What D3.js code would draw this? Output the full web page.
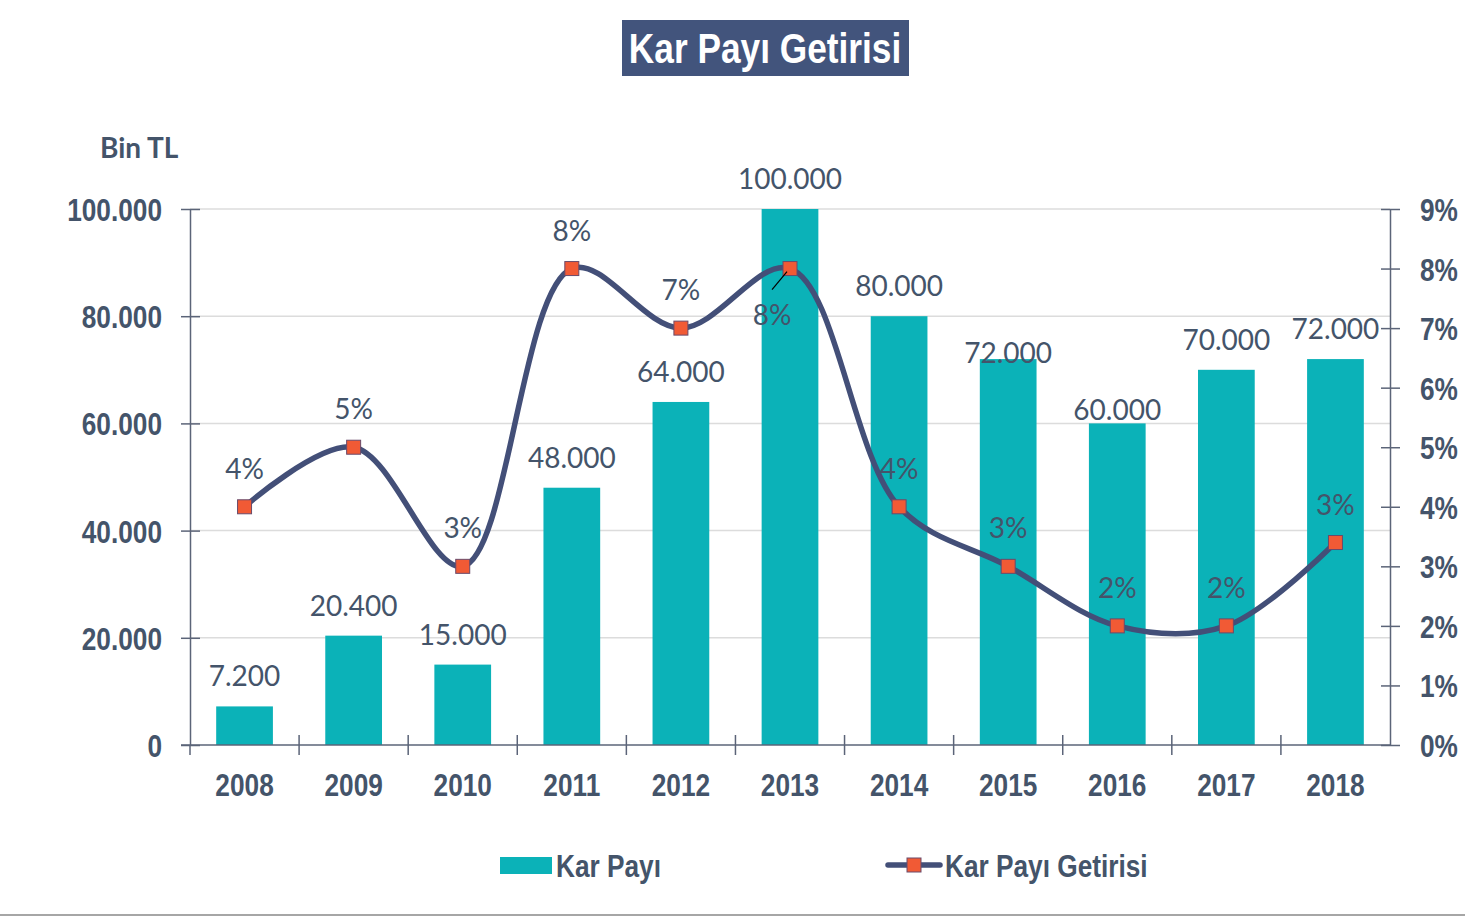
<!DOCTYPE html>
<html lang="tr">
<head>
<meta charset="utf-8">
<title>Kar Payı Getirisi</title>
<script src="https://cdn.jsdelivr.net/npm/d3@7/dist/d3.min.js"></script>
<style>
  html, body { margin: 0; padding: 0; background: #ffffff; }
  svg { display: block; }
</style>
</head>
<body>
<svg id="chart" width="1465" height="917"></svg>
<script>
// Yearly dividend (thousand TL) and dividend yield
const years = ["2008", "2009", "2010", "2011", "2012", "2013", "2014", "2015", "2016", "2017", "2018"];
const dividends = [7200, 20400, 15000, 48000, 64000, 100000, 80000, 72000, 60000, 70000, 72000];
const yields = [0.04, 0.05, 0.03, 0.08, 0.07, 0.08, 0.04, 0.03, 0.02, 0.02, 0.034];
const leftTicks = [0, 20000, 40000, 60000, 80000, 100000];
const rightTicks = [0, 0.01, 0.02, 0.03, 0.04, 0.05, 0.06, 0.07, 0.08, 0.09];

const W = 1465, H = 917;
const margin = { left: 190, right: 75, top: 209, bottom: 172 };
const x0 = margin.left, x1 = W - margin.right;
const yTop = margin.top, yBot = H - margin.bottom;

const ink = "#44546A";
const teal = "#0BB2B8";
const navy = "#434F78";
const marker = "#F15A35";
const bold = "'Liberation Sans', Arial, sans-serif";
const label = "Lato, 'Open Sans', sans-serif";
const SX = 0.82; // horizontal squeeze giving a condensed look to bold labels

const tr = d3.formatLocale({ decimal: ",", thousands: ".", grouping: [3], currency: ["", " TL"] });
const fmtNum = tr.format(",.0f");
const fmtPct = d3.format(".0%");

const svg = d3.select("#chart");

// condensed bold text: position via transform, squeeze horizontally
function condensed(sel, size) {
  sel.style("font-family", bold).style("font-weight", "bold").style("font-size", size + "px")
    .attr("fill", ink);
  sel.each(function () {
    const t = d3.select(this);
    const xv = +(t.attr("x") || 0);
    const yv = +(t.attr("y") || 0);
    t.attr("x", 0).attr("y", 0).attr("transform", `translate(${xv},${yv}) scale(${SX},1)`);
  });
  return sel;
}

const x = d3.scaleBand().domain(years).range([x0, x1]).paddingInner(0.48).paddingOuter(0.24);
const xb = d3.scaleBand().domain(years).range([x0, x1]);
const yL = d3.scaleLinear().domain([0, 100000]).range([yBot, yTop]);
const yR = d3.scaleLinear().domain([0, 0.09]).range([yBot, yTop]);

// page frame line at the bottom
svg.append("line").attr("x1", 0).attr("x2", W).attr("y1", 915).attr("y2", 915)
  .attr("stroke", "#a6a6a6").attr("stroke-width", 2);

// title
const titleG = svg.append("g");
titleG.append("rect").attr("x", 622).attr("y", 20).attr("width", 287).attr("height", 56).attr("fill", "#42547C");
titleG.append("text").attr("x", 765).attr("y", 48).attr("dy", "0.36em")
  .attr("text-anchor", "middle")
  .text("Kar Payı Getirisi")
  .call(condensed, 43)
  .attr("fill", "#ffffff");

// unit label
svg.append("text").attr("x", 100).attr("y", 148).attr("dy", "0.36em")
  .attr("fill", ink).style("font-family", label).style("font-weight", "bold").style("font-size", "28px")
  .text("Bin TL");

// gridlines
svg.append("g").selectAll("line").data(leftTicks.filter(d => d > 0)).join("line")
  .attr("x1", x0).attr("x2", x1)
  .attr("y1", d => yL(d)).attr("y2", d => yL(d))
  .attr("stroke", "#dcdcdc").attr("stroke-width", 1.5);

// bars
svg.append("g").selectAll("rect").data(years).join("rect")
  .attr("x", d => x(d))
  .attr("width", x.bandwidth())
  .attr("y", (d, i) => yL(dividends[i]))
  .attr("height", (d, i) => yBot - yL(dividends[i]))
  .attr("fill", teal);

// axes
const axisStyle = g => {
  g.select(".domain").attr("stroke", "#5b6478").attr("stroke-width", 1.5);
  g.selectAll(".tick line").attr("stroke", "#5b6478").attr("stroke-width", 1.5);
  g.selectAll(".tick text").attr("dy", "0.36em").call(condensed, 32);
};

const leftAxis = svg.append("g").attr("transform", `translate(${x0},0)`)
  .call(d3.axisLeft(yL).tickValues(leftTicks).tickFormat(d => fmtNum(d)).tickSize(9).tickPadding(19).tickSizeOuter(0))
  .call(axisStyle);
leftAxis.selectAll(".tick line").attr("x1", 10);

const rightAxis = svg.append("g").attr("transform", `translate(${x1},0)`)
  .call(d3.axisRight(yR).tickValues(rightTicks).tickFormat(fmtPct).tickSize(10).tickPadding(20).tickSizeOuter(0))
  .call(axisStyle);
rightAxis.selectAll(".tick line").attr("x1", -9);

// category axis with ticks at band edges
const bottom = svg.append("g").attr("transform", `translate(0,${yBot})`);
bottom.append("line").attr("x1", x0 - 9).attr("x2", x1).attr("y1", 0).attr("y2", 0)
  .attr("stroke", "#5b6478").attr("stroke-width", 1.5);
bottom.selectAll("line.edge").data(years.slice(1)).join("line").attr("class", "edge")
  .attr("x1", d => xb(d)).attr("x2", d => xb(d)).attr("y1", -10).attr("y2", 10)
  .attr("stroke", "#5b6478").attr("stroke-width", 1.5);
bottom.append("line").attr("x1", x0).attr("x2", x0).attr("y1", 0).attr("y2", 10)
  .attr("stroke", "#5b6478").attr("stroke-width", 1.5);
bottom.selectAll("text").data(years).join("text")
  .attr("x", d => xb(d) + xb.bandwidth() / 2).attr("y", 39).attr("dy", "0.36em")
  .attr("text-anchor", "middle")
  .text(d => d)
  .call(condensed, 32);

// bar value labels (a couple are nudged down to clear the line)
const barLabelShift = { "2015": 24, "2016": 17 };
svg.append("g").selectAll("text").data(years).join("text")
  .attr("x", d => x(d) + x.bandwidth() / 2)
  .attr("y", (d, i) => yL(dividends[i]) - 30 + (barLabelShift[d] || 0))
  .attr("dy", "0.36em").attr("text-anchor", "middle")
  .attr("fill", ink).style("font-family", label).style("font-size", "28px")
  .text((d, i) => fmtNum(dividends[i]));

// yield line
const cx = d => xb(d) + xb.bandwidth() / 2;
const line = d3.line().x(d => cx(d)).y((d, i) => yR(yields[i])).curve(d3.curveCatmullRom.alpha(0.5));
svg.append("path").datum(years).attr("d", line)
  .attr("fill", "none").attr("stroke", navy).attr("stroke-width", 5.5)
  .attr("stroke-linecap", "round").attr("stroke-linejoin", "round");

// yield markers
const ms = 14;
svg.append("g").selectAll("rect").data(years).join("rect")
  .attr("x", d => cx(d) - ms / 2)
  .attr("y", (d, i) => yR(yields[i]) - ms / 2)
  .attr("width", ms).attr("height", ms)
  .attr("fill", marker).attr("stroke", "#6a4a6a").attr("stroke-width", 1);

// yield labels; 2013 sits below-left with a leader line
svg.append("line")
  .attr("x1", cx("2013") - 3).attr("y1", yR(yields[5]) + 3)
  .attr("x2", cx("2013") - 18).attr("y2", yR(yields[5]) + 21)
  .attr("stroke", "#000").attr("stroke-width", 1.2);
svg.append("g").selectAll("text").data(years).join("text")
  .attr("x", d => d === "2013" ? cx(d) - 18 : cx(d))
  .attr("y", (d, i) => d === "2013" ? yR(yields[i]) + 46 : yR(yields[i]) - 38)
  .attr("dy", "0.36em").attr("text-anchor", "middle")
  .attr("fill", ink).style("font-family", label).style("font-size", "28px")
  .text((d, i) => fmtPct(yields[i]));

// legend
const lg = svg.append("g");
lg.append("rect").attr("x", 500).attr("y", 857).attr("width", 52).attr("height", 17).attr("fill", teal);
lg.append("text").attr("x", 556).attr("y", 865).attr("dy", "0.36em").text("Kar Payı").call(condensed, 32);
lg.append("line").attr("x1", 888).attr("x2", 940).attr("y1", 865).attr("y2", 865)
  .attr("stroke", navy).attr("stroke-width", 5.5).attr("stroke-linecap", "round");
lg.append("rect").attr("x", 914 - ms / 2).attr("y", 865 - ms / 2).attr("width", ms).attr("height", ms)
  .attr("fill", marker).attr("stroke", "#6a4a6a").attr("stroke-width", 1);
lg.append("text").attr("x", 945).attr("y", 865).attr("dy", "0.36em").text("Kar Payı Getirisi").call(condensed, 32);
</script>
</body>
</html>
